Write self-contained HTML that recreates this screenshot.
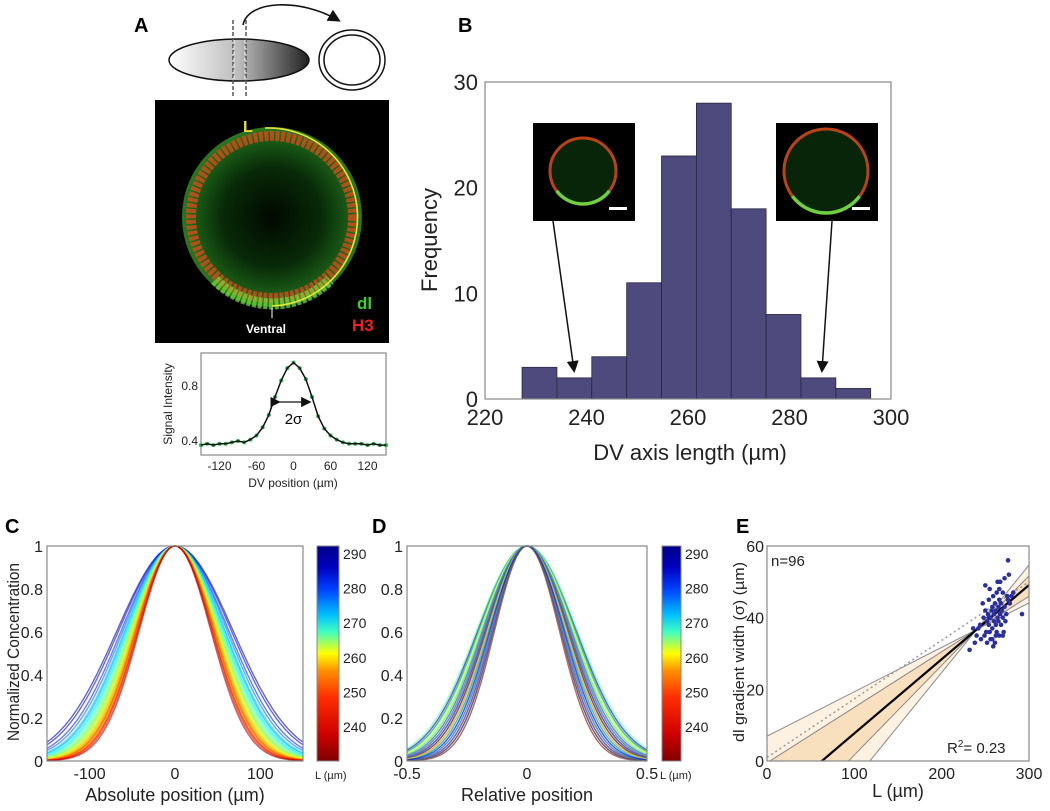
<!DOCTYPE html>
<html><head><meta charset="utf-8">
<style>
html,body{margin:0;padding:0;background:#fff;overflow:hidden;width:1050px;height:811px;}
svg{display:block;font-family:"Liberation Sans",Arial,sans-serif;}
</style></head>
<body>
<svg id="fig" width="1050" height="811" viewBox="0 0 1050 811" xmlns="http://www.w3.org/2000/svg">
<defs>
  <linearGradient id="ellGrad" x1="0" x2="1" y1="0" y2="0">
    <stop offset="0" stop-color="#ffffff"/><stop offset="0.5" stop-color="#bbbbbb"/><stop offset="1" stop-color="#222"/>
  </linearGradient>
  <radialGradient id="embGrad" cx="0.5" cy="0.5" r="0.5">
    <stop offset="0" stop-color="#010801"/><stop offset="0.55" stop-color="#082a08"/><stop offset="0.85" stop-color="#1a5a16"/><stop offset="1" stop-color="#2a7a20"/>
  </radialGradient>
  <linearGradient id="jet" x1="0" x2="0" y1="1" y2="0">
    <stop offset="0" stop-color="#800000"/><stop offset="0.125" stop-color="#d00000"/><stop offset="0.3" stop-color="#ff3000"/>
    <stop offset="0.42" stop-color="#ff9000"/><stop offset="0.5" stop-color="#ffff00"/><stop offset="0.6" stop-color="#40ffc0"/>
    <stop offset="0.68" stop-color="#00c0ff"/><stop offset="0.8" stop-color="#0040ff"/><stop offset="0.9" stop-color="#0000c0"/><stop offset="1" stop-color="#00008a"/>
  </linearGradient>
  <marker id="ah" markerWidth="8" markerHeight="8" refX="6" refY="4" orient="auto"><path d="M0,0 L8,4 L0,8 z" fill="#111"/></marker>
</defs>

<g>
  <text x="134" y="32" font-size="20" font-weight="bold">A</text>
  <ellipse cx="239" cy="60" rx="70" ry="21" fill="url(#ellGrad)" stroke="#111" stroke-width="1.5"/>
  <line x1="233" y1="20" x2="233" y2="97" stroke="#555" stroke-width="1.5" stroke-dasharray="4,2"/>
  <line x1="246" y1="20" x2="246" y2="97" stroke="#555" stroke-width="1.5" stroke-dasharray="4,2"/>
  <line x1="234" y1="40" x2="234" y2="80" stroke="#fff" stroke-width="1" stroke-dasharray="3,3"/>
  <line x1="245" y1="40" x2="245" y2="80" stroke="#fff" stroke-width="1" stroke-dasharray="3,3"/>
  <path d="M243,25 C248,0 300,-2 338,20" fill="none" stroke="#111" stroke-width="1.6" marker-end="url(#ah)"/>
  <ellipse cx="352" cy="60" rx="33" ry="30" fill="none" stroke="#111" stroke-width="1.5"/>
  <ellipse cx="352" cy="60" rx="28" ry="25" fill="none" stroke="#111" stroke-width="1.5"/>

  <rect x="155" y="100" width="234" height="243" fill="#000"/>
  <circle cx="272" cy="217" r="90" fill="url(#embGrad)"/>
  <circle cx="272" cy="217" r="81" fill="none" stroke="#e04a1a" stroke-width="10" stroke-dasharray="4,1.5" opacity="0.75"/>
  <path d="M215,280 A81,81 0 0 0 330,280" fill="none" stroke="#6fd83a" stroke-width="11" stroke-dasharray="4,1.5" opacity="0.75"/>
  <path d="M272,306 A89,89 0 0 0 265,128" fill="none" stroke="#e8e23a" stroke-width="1.6"/>
  <text x="243" y="132" font-size="16" font-weight="bold" fill="#f0e030">L</text>
  <path d="M272,318 L272,308" stroke="#fff" stroke-width="1"/>
  <text x="246" y="333" font-size="12" font-weight="bold" fill="#fff">Ventral</text>
  <text x="357" y="309" font-size="17" font-weight="bold" fill="#3fd030">dl</text>
  <text x="352" y="331" font-size="17" font-weight="bold" fill="#ee2020">H3</text>

  <g id="aplot"></g>
</g>

<g>
  <text x="458" y="32" font-size="20" font-weight="bold">B</text>
  <g id="bplot"></g>
</g>

<g id="cplot"></g>
<g id="dplot"></g>
<g id="eplot"></g>
</svg>

<script>
// ---------- data ----------
const aPos = [-150,-140,-130,-120,-110,-100,-90,-80,-70,-60,-50,-40,-30,-20,-10,0,10,20,30,40,50,60,70,80,90,100,110,120,130,140,150];
const aSignal = [0.37,0.38,0.37,0.38,0.38,0.39,0.40,0.39,0.41,0.44,0.50,0.59,0.72,0.84,0.93,0.97,0.93,0.85,0.72,0.58,0.49,0.44,0.41,0.39,0.38,0.38,0.38,0.37,0.38,0.37,0.37];
const aTicksX = [-120,-60,0,60,120];
const aTicksY = [0.4,0.8];
const bBinStart = 227.3;
const bBinWidth = 6.87;
const bCounts = [3,2,4,11,23,28,18,8,2,1];
const bTicksX = [220,240,260,280,300];
const bTicksY = [0,10,20,30];
// Panels C/D: embryo lengths, absolute widths (µm), relative widths
const cdL       = [232,236,238,241,244,246,248,249,250,251,252,253,254,255,256,257,258,259,260,261,262,263,264,266,268,270,272,275,278,282,286,290];
const cSigma    = [42,44,43,46,45,47,44,48,46,49,45,47,50,46,48,51,49,52,50,53,51,54,52,55,57,56,59,58,61,63,66,68];
const dRelSigma = [0.135,0.19,0.15,0.175,0.14,0.205,0.16,0.18,0.145,0.195,0.17,0.155,0.185,0.2,0.165,0.14,0.21,0.175,0.15,0.19,0.16,0.2,0.145,0.18,0.17,0.155,0.195,0.165,0.185,0.14,0.2,0.175];
const cTicksX = [-100,0,100];
const dTicksX = [-0.5,0,0.5];
const cdTicksY = [0,0.2,0.4,0.6,0.8,1];
const cbTicks = [240,250,260,270,280,290];
const eL = [232,236,238,240,242,244,245,247,248,249,250,250,251,252,252,253,254,254,255,255,256,256,257,258,258,259,259,260,260,261,261,262,262,263,263,264,264,265,265,266,266,267,267,268,268,269,270,270,271,272,272,273,274,275,276,277,278,280,282,292,262,258,266,270,254,276];
const eS = [31,37,33,35,37,38,34,44,40,35,42,49,36,39,33,41,45,38,36,48,40,34,42,37,43,32,46,39,41,44,33,38,42,36,47,40,50,39,43,35,45,41,50,38,44,42,40,47,36,43,51,39,41,46,45,52,44,46,47,41,35,34,48,35,40,56];
const eTicksX = [0,100,200,300];
const eTicksY = [0,20,40,60];
const eFitSlope = 0.207, eFitIntercept = -13;

// ---------- helpers ----------
const NS = "http://www.w3.org/2000/svg";
function mk(parent, tag, attrs, text){
  const el = document.createElementNS(NS, tag);
  for (const k in attrs) el.setAttribute(k, attrs[k]);
  if (text !== undefined) el.textContent = text;
  parent.appendChild(el);
  return el;
}
function lin(d0,d1,r0,r1){ return v => r0 + (v-d0)*(r1-r0)/(d1-d0); }
// t=0 -> dark red (low L), t=1 -> dark blue (high L)
function jetL(t){
  t = 1 - Math.max(0, Math.min(1, t));
  const r = Math.max(0, Math.min(1, 1.5 - Math.abs(4*t-3)));
  const g = Math.max(0, Math.min(1, 1.5 - Math.abs(4*t-2)));
  const b = Math.max(0, Math.min(1, 1.5 - Math.abs(4*t-1)));
  return `rgb(${Math.round(r*255)},${Math.round(g*255)},${Math.round(b*255)})`;
}
function axesBox(g, x0,y0,x1,y1){
  const r = mk(g,'rect',{x:x0,y:y0,width:x1-x0,height:y1-y0,fill:'none',stroke:'#888','stroke-width':1.2});
  
  
}

// ---------- Panel A plot ----------
(function(){
  const g = document.getElementById('aplot');
  const X = lin(-150,150,201,386), Y = lin(0.4,0.8,441,386);
  axesBox(g,201,353,386,455);
  aTicksX.forEach(v=>{
    const t = mk(g,'text',{x:X(v),y:470,'font-size':12,'text-anchor':'middle',fill:'#222'}, String(v));
     
  });
  aTicksY.forEach(v=>{
    const t = mk(g,'text',{x:198,y:Y(v)+4,'font-size':12,'text-anchor':'end',fill:'#222'}, String(v));
     
  });
  aPos.forEach((p,i)=>{
    const c = mk(g,'circle',{cx:X(p),cy:Y(aSignal[i]),r:2,fill:'#2aa84a'});
     
  });
  const d = aPos.map((p,i)=>(i?'L':'M')+X(p).toFixed(1)+','+Y(aSignal[i]).toFixed(1)).join(' ');
  const ln = mk(g,'path',{d:d,fill:'none',stroke:'#111','stroke-width':1.5});
   
  const ar = mk(g,'line',{x1:X(-25),y1:402,x2:X(25),y2:402,stroke:'#111','stroke-width':1.3,'marker-end':'url(#ah)','marker-start':'url(#ah)'});
   
  const s = mk(g,'text',{x:X(0),y:424,'font-size':15,'text-anchor':'middle'},'2σ');
   
  const xl = mk(g,'text',{x:293,y:487,'font-size':12,'text-anchor':'middle',fill:'#222'},'DV position (µm)');
   
  const yl = mk(g,'text',{x:0,y:0,'font-size':12,'text-anchor':'middle',fill:'#222',transform:'translate(172,404) rotate(-90)'},'Signal Intensity');
   
})();

// ---------- Panel B ----------
(function(){
  const g = document.getElementById('bplot');
  const X = lin(220,300,485,891), Y = lin(0,30,399,82);
  bCounts.forEach((c,i)=>{
    const x0 = X(bBinStart+i*bBinWidth), x1 = X(bBinStart+(i+1)*bBinWidth);
    const r = mk(g,'rect',{x:x0,y:Y(c),width:x1-x0,height:Y(0)-Y(c),fill:'#4f4a7e',stroke:'#2a2640','stroke-width':0.8});
     
  });
  axesBox(g,485,82,891,399);
  bTicksX.forEach(v=>{
    const t = mk(g,'text',{x:X(v),y:425,'font-size':22,'text-anchor':'middle',fill:'#222'},String(v));
     
  });
  bTicksY.forEach(v=>{
    const t = mk(g,'text',{x:478,y:Y(v)+8,'font-size':22,'text-anchor':'end',fill:'#222'},String(v));
     
  });
  const xl = mk(g,'text',{x:690,y:460,'font-size':22,'text-anchor':'middle',fill:'#222'},'DV axis length (µm)');
   
  const yl = mk(g,'text',{x:0,y:0,'font-size':22,'text-anchor':'middle',fill:'#222',transform:'translate(437,240) rotate(-90)'},'Frequency');
   
  [[533,'small-embryo-inset',33,553,574],[776,'large-embryo-inset',42,832,822]].forEach(([x,name,r,ax0,ax1])=>{
    const ig = mk(g,'g',{});
     
    mk(ig,'rect',{x:x,y:123,width:102,height:98,fill:'#000'});
    mk(ig,'circle',{cx:x+50,cy:171,r:r,fill:'#0a2a0a',stroke:'#d04a1a','stroke-width':3,opacity:0.9});
    mk(ig,'path',{d:`M${x+50-r*0.8},${171+r*0.6} A${r},${r} 0 0 0 ${x+50+r*0.8},${171+r*0.6}`,fill:'none',stroke:'#6fd040','stroke-width':3.5});
    mk(ig,'rect',{x:x+76,y:207,width:18,height:3,fill:'#fff'});
    const a = mk(g,'line',{x1:ax0,y1:221,x2:ax1,y2:370,stroke:'#111','stroke-width':1.5,'marker-end':'url(#ah)'});
     
  });
})();

// ---------- Panels C & D ----------
function curvesPanel(id, label, labelX, box, xDom, xTicks, xTitle, sigmas, shuffle, cb){
  const g = document.getElementById(id);
  const [x0,y0,x1,y1] = box;
  const X = lin(xDom[0],xDom[1],x0,x1), Y = lin(0,1,y1,y0);
  const lb = mk(g,'text',{x:labelX,y:533,'font-size':20,'font-weight':'bold'},label);
   
  const order = cdL.map((L,i)=>i);
  if (shuffle) order.sort((a,b)=>(a*7%11)-(b*7%11)); else order.reverse();
  order.forEach(i=>{
    const L = cdL[i], s = sigmas[i];
    let d='';
    for(let k=0;k<=120;k++){
      const xv = xDom[0] + (xDom[1]-xDom[0])*k/120;
      const yv = Math.exp(-xv*xv/(2*s*s));
      d += (k?'L':'M')+X(xv).toFixed(1)+','+Y(yv).toFixed(1);
    }
    const col = shuffle ? jetL(((i*37)%62)/62) : jetL((L-230)/62);
    const p = mk(g,'path',{d:d,fill:'none',stroke:col,'stroke-width':1.4,opacity:0.6});
     
  });
  axesBox(g,x0,y0,x1,y1);
  xTicks.forEach(v=>{
    const t = mk(g,'text',{x:X(v),y:y1+18,'font-size':16,'text-anchor':'middle',fill:'#222'},String(v));
     
  });
  cdTicksY.forEach(v=>{
    const t = mk(g,'text',{x:x0-4,y:Y(v)+6,'font-size':16,'text-anchor':'end',fill:'#222'},String(v));
     
  });
  const xt = mk(g,'text',{x:(x0+x1)/2,y:y1+40,'font-size':18,'text-anchor':'middle',fill:'#222'},xTitle);
   
  const [cx0,cx1] = cb;
  const cbr = mk(g,'rect',{x:cx0,y:y0,width:cx1-cx0,height:y1-y0,fill:'url(#jet)',stroke:'#888','stroke-width':1});
   
  const C = lin(230.2,292.3,y1,y0);
  cbTicks.forEach(v=>{
    const t = mk(g,'text',{x:cx1+4,y:C(v)+5,'font-size':14,fill:'#222'},String(v));
     
  });
  const ct = mk(g,'text',{x:cx0-2,y:y1+18,'font-size':11,fill:'#222'},'L (µm)');
   
  return g;
}
const gc = curvesPanel('cplot','C',5,[47,546,303,761],[-150,150],cTicksX,'Absolute position (µm)',cSigma,false,[317,339]);
const yc = mk(gc,'text',{x:0,y:0,'font-size':17,'text-anchor':'middle',fill:'#222',transform:'translate(19,652) rotate(-90)',textLength:178,lengthAdjust:'spacingAndGlyphs'},'Normalized Concentration');
 
curvesPanel('dplot','D',372,[407,546,647,761],[-0.5,0.5],dTicksX,'Relative position',dRelSigma,true,[662,681]);

// ---------- Panel E ----------
(function(){
  const g = document.getElementById('eplot');
  const x0=767,x1=1029,y0=546,y1=761;
  const X = lin(0,300,x0,x1), Y = lin(0,60,y1,y0);
  const lb = mk(g,'text',{x:736,y:533,'font-size':20,'font-weight':'bold'},'E');
   
  const clip = mk(g,'clipPath',{id:'eclip'}); mk(clip,'rect',{x:x0,y:y0,width:x1-x0,height:y1-y0});
  const cg = mk(g,'g',{'clip-path':'url(#eclip)'});
  const pivot = 240, pv = eFitSlope*pivot+eFitIntercept;
  function band(sLo,sHi,fill){
    const pts=[];
    [0,300].forEach(x=>pts.push([X(x),Y(pv+sHi*(x-pivot))]));
    [300,0].forEach(x=>pts.push([X(x),Y(pv+sLo*(x-pivot))]));
    const p = mk(cg,'polygon',{points:pts.map(q=>q.join(',')).join(' '),fill:fill,stroke:'#888','stroke-width':1});
     
  }
  band(0.124,0.30,'#fdf1e2');
  band(0.155,0.25,'#f8dfbd');
  const fl = mk(cg,'line',{x1:X(0),y1:Y(eFitIntercept),x2:X(300),y2:Y(eFitSlope*300+eFitIntercept),stroke:'#000','stroke-width':2.2});
   
  const dl = mk(cg,'line',{x1:X(0),y1:Y(1),x2:X(300),y2:Y(50),stroke:'#999','stroke-width':1.5,'stroke-dasharray':'2,3'});
   
  eL.forEach((L,i)=>{
    const c = mk(cg,'circle',{cx:X(L),cy:Y(eS[i]),r:2.3,fill:'#2a2fa0'});
     
  });
  axesBox(g,x0,y0,x1,y1);
  eTicksX.forEach(v=>{
    const t = mk(g,'text',{x:X(v),y:y1+18,'font-size':16,'text-anchor':'middle',fill:'#222'},String(v));
     
  });
  eTicksY.forEach(v=>{
    const t = mk(g,'text',{x:x0-3,y:Y(v)+6,'font-size':16,'text-anchor':'end',fill:'#222'},String(v));
     
  });
  const n = mk(g,'text',{x:771,y:566,'font-size':15,fill:'#222'},'n=96');
   
  const r2 = mk(g,'text',{x:947,y:753,'font-size':15,fill:'#222'});
   
  r2.innerHTML = 'R<tspan dy="-6" font-size="10">2</tspan><tspan dy="6">= 0.23</tspan>';
  const xt = mk(g,'text',{x:898,y:797,'font-size':18,'text-anchor':'middle',fill:'#222'},'L (µm)');
   
  const yt = mk(g,'text',{x:0,y:0,'font-size':15,'text-anchor':'middle',fill:'#222',transform:'translate(744,652) rotate(-90)',textLength:180,lengthAdjust:'spacingAndGlyphs'},'dl gradient width (σ) (µm)');
   
})();
</script>
</body></html>
